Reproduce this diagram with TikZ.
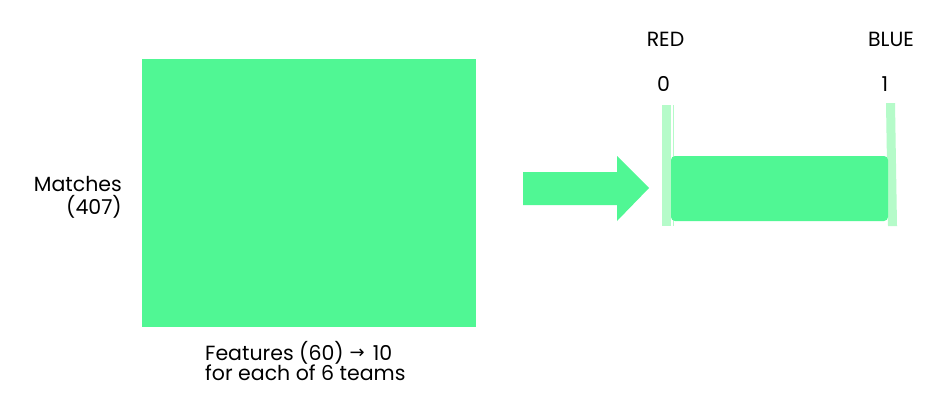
\documentclass[tikz,border=0pt]{standalone}
\usepackage{fontspec}
\setmainfont{Poppins}
\newfontfamily\symfont{DejaVu Sans}
\definecolor{mgreen}{HTML}{50F794}
\definecolor{lgreen}{HTML}{B5FBC9}
\begin{document}
\begin{tikzpicture}[x=1pt,y=-1pt,
  lbl/.style={inner sep=0pt,font=\fontsize{20.5}{24}\selectfont}]
\useasboundingbox[fill=white] (0,0) rectangle (947,407);
\fill[mgreen] (142,59) rectangle (476,327);
\node[lbl,anchor=base east] (m1) at (122,191) {Matches};
\node[lbl,anchor=base east] (m2) at (122,214) {(407)};
\node[lbl,anchor=base west] (f1) at (205,360) {Features (60)\hspace{6pt}\raisebox{2pt}{\symfont\fontsize{18}{20}\selectfont →}\hspace{8pt}10};
\node[lbl,anchor=base west] (f2) at (205,380) {for each of 6 teams};
\fill[mgreen] (523,172) -- (617,172) -- (617,156) -- (649,188) -- (617,221) -- (617,205) -- (523,205) -- cycle;
\fill[lgreen] (662,105) rectangle (671,226);
\draw[lgreen,line width=0.8pt] (673.5,105) -- (673.5,226);
\fill[lgreen] (886,103) -- (895,103) -- (897,226) -- (888,226) -- cycle;
\fill[mgreen,rounded corners=4pt] (671,156) rectangle (888,221);
\node[lbl,anchor=base] (red) at (665.5,46) {RED};
\node[lbl,anchor=base] (blue) at (891,46) {BLUE};
\node[lbl,anchor=base] (zero) at (663.5,91) {0};
\node[lbl,anchor=base] (one) at (885,91) {1};
\end{tikzpicture}
\end{document}
